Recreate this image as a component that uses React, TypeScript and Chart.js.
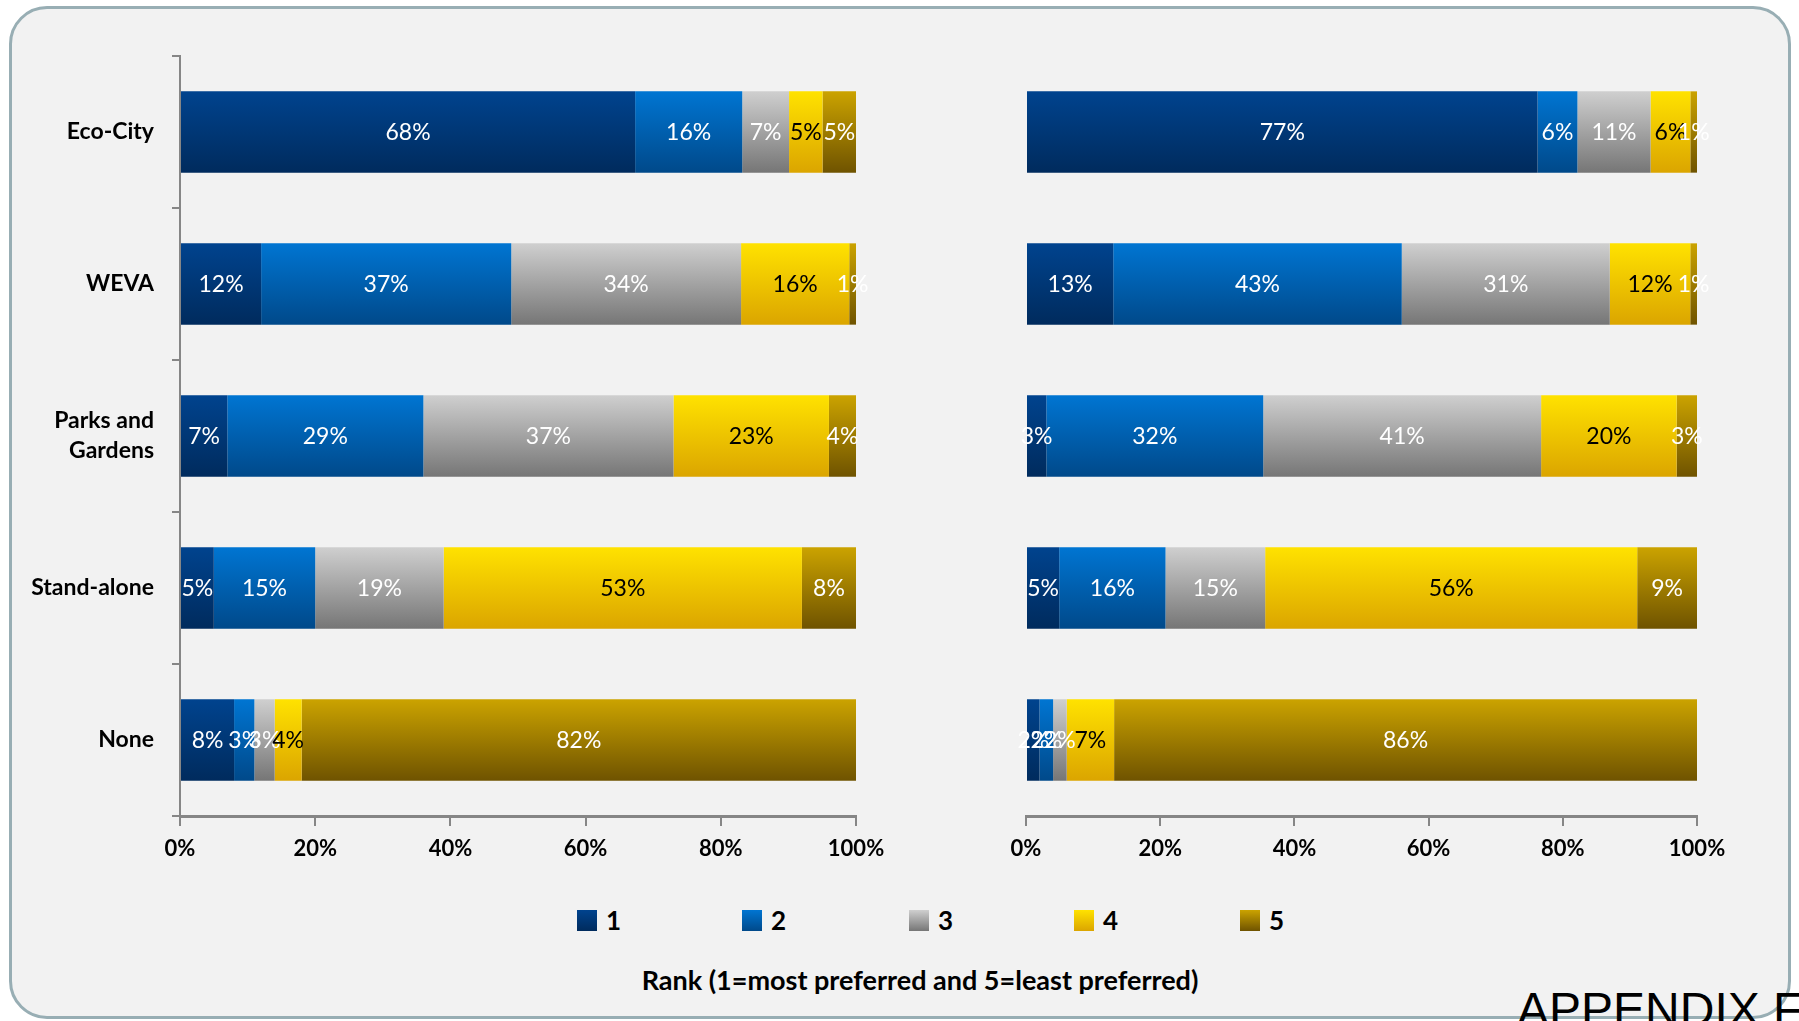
import React, { useEffect, useRef } from "react";
import { Chart, registerables } from "chart.js";

Chart.register(...registerables);

const FONT = "Lato, 'Noto Sans', sans-serif";

const categories: (string | string[])[] = ["Eco-City", "WEVA", ["Parks and", "Gardens"], "Stand-alone", "None"];
const rankNames = ["1", "2", "3", "4", "5"];
const xTickValues = [0, 20, 40, 60, 80, 100];
const axisTitle = "Rank (1=most preferred and 5=least preferred)";
const footerText = "APPENDIX F";

// Left panel (percent of respondents per rank)
const leftRank1 = [68, 12, 7, 5, 8];
const leftRank2 = [16, 37, 29, 15, 3];
const leftRank3 = [7, 34, 37, 19, 3];
const leftRank4 = [5, 16, 23, 53, 4];
const leftRank5 = [5, 1, 4, 8, 82];

// Right panel
const rightRank1 = [77, 13, 3, 5, 2];
const rightRank2 = [6, 43, 32, 16, 2];
const rightRank3 = [11, 31, 41, 15, 2];
const rightRank4 = [6, 12, 20, 56, 7];
const rightRank5 = [1, 1, 3, 9, 86];

const rankTop = ["#00438e", "#0075d2", "#cfcfcf", "#ffe200", "#cba300"];
const rankBottom = ["#002b5d", "#00498a", "#767676", "#dba500", "#6f5300"];
const labelColors = ["#ffffff", "#ffffff", "#ffffff", "#000000", "#ffffff"];

const BAR_PCT = 0.535;

function gradientFor(c: any, r: number) {
  const chart = c.chart;
  const ys = chart.scales && chart.scales.y;
  const area = chart.chartArea;
  if (!ys || !area || c.type !== "data") return rankTop[r];
  const band = (area.bottom - area.top) / categories.length;
  const h = band * BAR_PCT;
  const yc = ys.getPixelForValue(c.dataIndex);
  const g = chart.ctx.createLinearGradient(0, yc - h / 2, 0, yc + h / 2);
  g.addColorStop(0, rankTop[r]);
  g.addColorStop(1, rankBottom[r]);
  return g;
}

const labelPlugin = {
  id: "segmentLabels",
  afterDatasetsDraw(chart: any) {
    const ctx = chart.ctx;
    ctx.save();
    ctx.font = `23px ${FONT}`;
    ctx.textAlign = "center";
    ctx.textBaseline = "middle";
    chart.data.datasets.forEach((ds: any, di: number) => {
      const meta = chart.getDatasetMeta(di);
      meta.data.forEach((el: any, i: number) => {
        const p = el.getProps(["x", "y", "base"], true);
        ctx.fillStyle = labelColors[di];
        ctx.fillText(`${ds.rawValues[i]}%`, (p.x + p.base) / 2, p.y + 1);
      });
    });
    ctx.restore();
  },
};

function makeConfig(series: number[][], showY: boolean, padLeft: number, padRight: number): any {
  const totals = categories.map((_, i) => series.reduce((s, arr) => s + arr[i], 0));
  const datasets = series.map((arr, r) => ({
    label: rankNames[r],
    data: arr.map((v, i) => (v / totals[i]) * 100),
    rawValues: arr,
    backgroundColor: (c: any) => gradientFor(c, r),
    borderWidth: 0,
    barPercentage: BAR_PCT,
    categoryPercentage: 1,
  }));
  return {
    type: "bar",
    data: { labels: categories, datasets },
    options: {
      indexAxis: "y",
      animation: false,
      responsive: false,
      maintainAspectRatio: false,
      devicePixelRatio: 1,
      layout: { padding: { top: 16, left: padLeft, right: padRight, bottom: 0 } },
      plugins: { legend: { display: false }, tooltip: { enabled: false } },
      scales: {
        x: {
          stacked: true,
          min: 0,
          max: 100,
          afterBuildTicks: (s: any) => {
            s.ticks = xTickValues.map((v) => ({ value: v }));
          },
          ticks: {
            callback: (v: any) => `${v}%`,
            color: "#000",
            font: { family: FONT, size: 22, weight: "bold" },
            padding: 10,
            maxRotation: 0,
            autoSkip: false,
          },
          grid: { drawOnChartArea: false, drawTicks: true, tickLength: 10, color: "#868686", lineWidth: 2 },
          border: { display: true, color: "#868686", width: 3 },
          afterFit: (s: any) => {
            s.height = 74;
            s.paddingLeft = 0;
            s.paddingRight = 0;
          },
        },
        y: {
          stacked: true,
          display: showY,
          ticks: {
            color: "#000",
            font: { family: FONT, size: 23, weight: "bold", lineHeight: 1.3 },
            padding: 18,
            autoSkip: false,
          },
          grid: { drawOnChartArea: false, drawTicks: true, tickLength: 8, color: "#868686", lineWidth: 2, offset: true },
          border: { display: true, color: "#868686", width: 2 },
          afterFit: (s: any) => {
            if (showY) s.width = 180;
            s.paddingTop = 0;
            s.paddingBottom = 0;
          },
        },
      },
    },
    plugins: [labelPlugin],
  };
}

function Panel(props: { series: number[][]; showY: boolean; left: number; width: number; padLeft: number; padRight: number }) {
  const ref = useRef<HTMLCanvasElement | null>(null);
  useEffect(() => {
    if (!ref.current) return;
    const chart = new Chart(ref.current, makeConfig(props.series, props.showY, props.padLeft, props.padRight));
    return () => chart.destroy();
  }, []);
  return (
    <canvas
      ref={ref}
      width={props.width}
      height={850}
      style={{ position: "absolute", left: props.left, top: 40, width: props.width, height: 850 }}
    />
  );
}

const legendLefts = [577, 742, 909, 1074, 1240];

export default function App() {
  return (
    <div
      style={{
        position: "fixed",
        left: 0,
        top: 0,
        width: 1799,
        height: 1021,
        overflow: "hidden",
        background: "#ffffff",
        fontFamily: FONT,
      }}
    >
      <div
        style={{
          position: "absolute",
          left: 9,
          top: 6,
          width: 1782,
          height: 1013,
          boxSizing: "border-box",
          border: "3px solid #98aeb4",
          borderRadius: 38,
          background: "#f2f2f2",
        }}
      />
      <Panel
        series={[leftRank1, leftRank2, leftRank3, leftRank4, leftRank5]}
        showY={true}
        left={0}
        width={910}
        padLeft={0}
        padRight={54}
      />
      <Panel
        series={[rightRank1, rightRank2, rightRank3, rightRank4, rightRank5]}
        showY={false}
        left={990}
        width={740}
        padLeft={36}
        padRight={33}
      />
      {rankNames.map((name, i) => (
        <div key={name} style={{ position: "absolute", left: legendLefts[i], top: 905, height: 30, display: "flex", alignItems: "center" }}>
          <div
            style={{
              width: 20,
              height: 21,
              background: `linear-gradient(to bottom, ${rankTop[i]}, ${rankBottom[i]})`,
            }}
          />
          <span style={{ marginLeft: 9, fontSize: 26, fontWeight: "bold", color: "#000", lineHeight: "30px" }}>{name}</span>
        </div>
      ))}
      <div
        style={{
          position: "absolute",
          left: 520,
          width: 800,
          top: 962,
          textAlign: "center",
          fontSize: 27,
          fontWeight: "bold",
          lineHeight: "36px",
          color: "#000",
        }}
      >
        {axisTitle}
      </div>
      <div
        style={{
          position: "absolute",
          left: 1517,
          top: 986,
          fontFamily: "'Liberation Sans', Arial, sans-serif",
          fontSize: 48,
          lineHeight: "48px",
          color: "#000",
          whiteSpace: "nowrap",
        }}
      >
        {footerText}
      </div>
    </div>
  );
}
